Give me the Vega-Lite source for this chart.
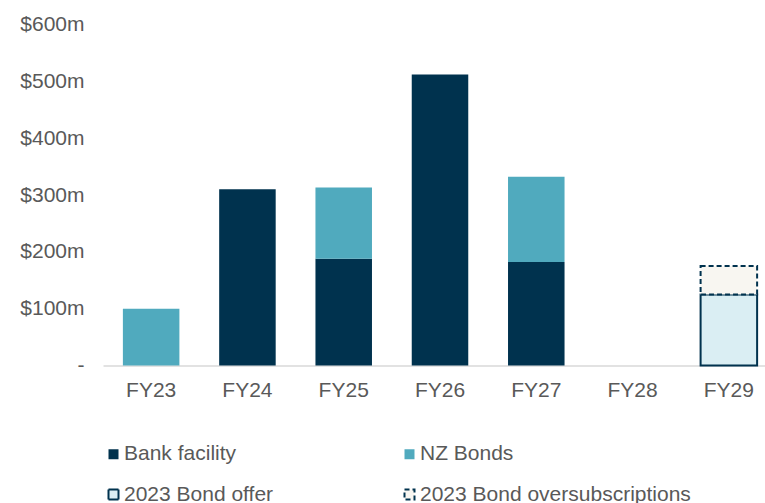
{
  "$schema": "https://vega.github.io/schema/vega-lite/v6.json",
  "width": 674,
  "height": 341,
  "autosize": {"type": "none"},
  "padding": {"left": 103, "top": 24.5, "right": 0, "bottom": 137.5},
  "background": "white",
  "config": {"view": {"stroke": null}, "font": "Liberation Sans"},
  "data": {
    "values": [
      {"fy": "FY23", "series": "NZ Bonds", "value": 100, "order": 2},
      {"fy": "FY24", "series": "Bank facility", "value": 310, "order": 1},
      {"fy": "FY25", "series": "Bank facility", "value": 188, "order": 1},
      {"fy": "FY25", "series": "NZ Bonds", "value": 125, "order": 2},
      {"fy": "FY26", "series": "Bank facility", "value": 512, "order": 1},
      {"fy": "FY27", "series": "Bank facility", "value": 182, "order": 1},
      {"fy": "FY27", "series": "NZ Bonds", "value": 150, "order": 2},
      {"fy": "FY29", "series": "2023 Bond offer", "value": 125, "order": 3},
      {"fy": "FY29", "series": "2023 Bond oversubscriptions", "value": 50, "order": 4}
    ]
  },
  "mark": {"type": "bar", "strokeWidth": 2},
  "encoding": {
    "x": {
      "field": "fy",
      "type": "nominal",
      "scale": {"domain": ["FY23", "FY24", "FY25", "FY26", "FY27", "FY28", "FY29"], "paddingInner": 0.413},
      "axis": {"title": null, "labelAngle": 0, "labelFontSize": 21, "labelColor": "#595959", "labelPadding": 14, "ticks": false, "domainColor": "#D9D9D9", "domainWidth": 1.5}
    },
    "y": {
      "field": "value",
      "type": "quantitative",
      "stack": "zero",
      "scale": {"domain": [0, 600]},
      "axis": {"title": null, "values": [0, 100, 200, 300, 400, 500, 600], "grid": false, "domain": false, "ticks": false, "labelExpr": "datum.value == 0 ? '-' : '$' + datum.value + 'm'", "labelFontSize": 21, "labelColor": "#595959", "labelPadding": 19}
    },
    "fill": {
      "field": "series",
      "type": "nominal",
      "scale": {"domain": ["Bank facility", "NZ Bonds", "2023 Bond offer", "2023 Bond oversubscriptions"], "range": ["#00324E", "#50AABE", "#DAEEF3", "#F8F6F1"]},
      "legend": {"orient": "none", "direction": "horizontal", "legendX": 0, "legendY": 419, "columns": 2, "columnPadding": 125, "rowPadding": 18.5, "labelFontSize": 21, "labelColor": "#595959", "labelOffset": 0, "labelLimit": 400, "title": null, "symbolType": "square", "symbolSize": 100, "symbolStrokeWidth": 2, "padding": 0}
    },
    "stroke": {
      "field": "series",
      "type": "nominal",
      "scale": {"domain": ["Bank facility", "NZ Bonds", "2023 Bond offer", "2023 Bond oversubscriptions"], "range": ["transparent", "transparent", "#00324E", "#00324E"]},
      "legend": {"orient": "none", "direction": "horizontal", "legendX": 0, "legendY": 419, "columns": 2, "columnPadding": 125, "rowPadding": 18.5, "labelFontSize": 21, "labelColor": "#595959", "labelOffset": 0, "labelLimit": 400, "title": null, "symbolType": "square", "symbolSize": 100, "symbolStrokeWidth": 2, "padding": 0}
    },
    "strokeDash": {
      "field": "series",
      "type": "nominal",
      "scale": {"domain": ["Bank facility", "NZ Bonds", "2023 Bond offer", "2023 Bond oversubscriptions"], "range": [[1, 0], [1, 0], [1, 0], [5, 3]]},
      "legend": {"orient": "none", "direction": "horizontal", "legendX": 0, "legendY": 419, "columns": 2, "columnPadding": 125, "rowPadding": 18.5, "labelFontSize": 21, "labelColor": "#595959", "labelOffset": 0, "labelLimit": 400, "title": null, "symbolType": "square", "symbolSize": 100, "symbolStrokeWidth": 2, "padding": 0}
    },
    "order": {"field": "order", "type": "quantitative"}
  }
}
